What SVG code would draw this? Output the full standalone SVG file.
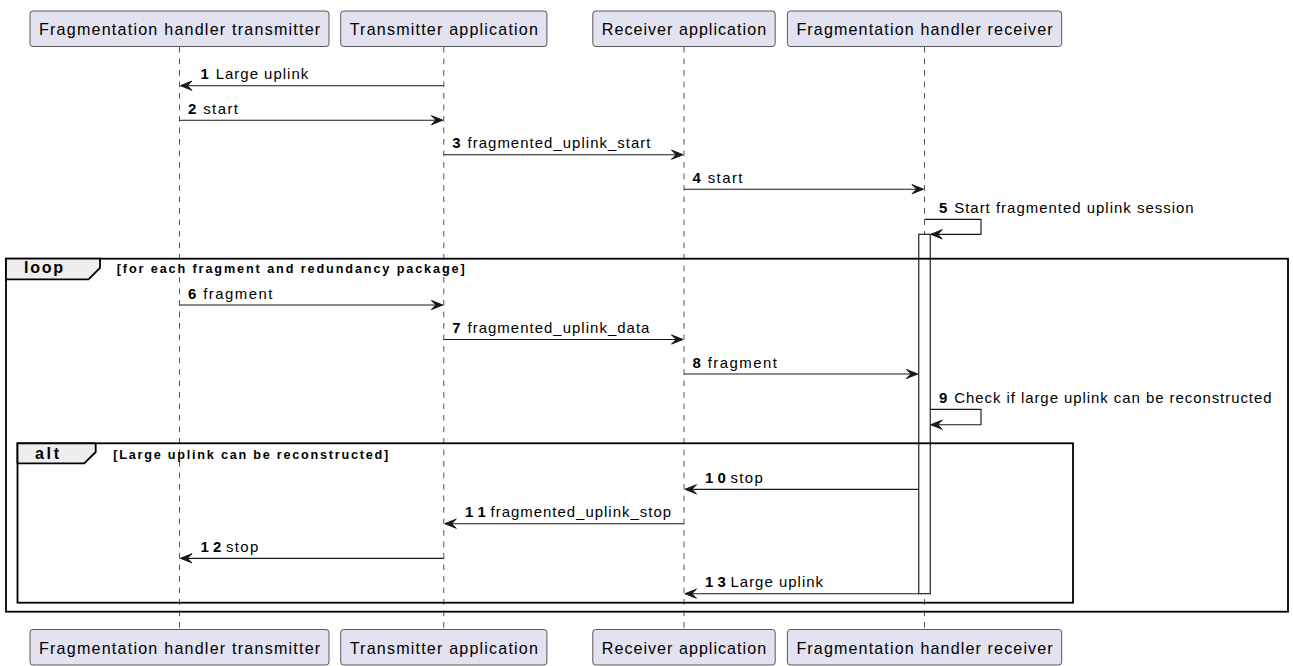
<svg xmlns="http://www.w3.org/2000/svg" width="1293" height="666" viewBox="0 0 1293 666">
  <defs>
    <style>
      .box { fill: #E2E2F0; stroke: #181818; stroke-width: 0.7; }
      .ptxt { font-family: "Liberation Sans", Arial, sans-serif; font-size: 16.1px; fill: #000; }
      .life { stroke: #555; stroke-width: 1; stroke-dasharray: 5.75 5.75; fill: none; }
      .msg { stroke: #181818; stroke-width: 1.15; fill: none; }
      .head { fill: #181818; stroke: #181818; stroke-width: 1; }
      .num { font-family: "Liberation Sans", Arial, sans-serif; font-size: 14.95px; font-weight: bold; fill: #000; }
      .lbl { font-family: "Liberation Sans", Arial, sans-serif; font-size: 14.95px; fill: #000; }
      .act { fill: #FFFFFF; stroke: #181818; stroke-width: 1.15; }
      .frame { fill: none; stroke: #000; stroke-width: 1.8; }
      .tab { fill: #EEEEEE; stroke: #000; stroke-width: 1.8; }
      .ftitle { font-family: "Liberation Sans", Arial, sans-serif; font-size: 16.1px; font-weight: bold; fill: #000; }
      .guard { font-family: "Liberation Sans", Arial, sans-serif; font-size: 12.65px; font-weight: bold; fill: #000; }
    </style>
  </defs>
  <rect x="0" y="0" width="1293" height="666" fill="#FFFFFF"/>

  <!-- lifelines -->
  <g id="lifelines">
    <line class="life" x1="179.5" y1="47" x2="179.5" y2="629.5"/>
    <line class="life" x1="443.8" y1="47" x2="443.8" y2="629.5"/>
    <line class="life" x1="684" y1="47" x2="684" y2="629.5"/>
    <line class="life" x1="924.5" y1="47" x2="924.5" y2="629.5"/>
  </g>

  <!-- participants, top and bottom -->
  <g id="fh-transmitter">
    <rect class="box" x="30" y="11" width="299" height="35.5" rx="3"/>
    <text class="ptxt" x="39" y="35" textLength="281.2" lengthAdjust="spacing">Fragmentation handler transmitter</text>
    <rect class="box" x="30" y="629.5" width="299" height="35.5" rx="3"/>
    <text class="ptxt" x="39" y="653.5" textLength="281.2" lengthAdjust="spacing">Fragmentation handler transmitter</text>
  </g>
  <g id="tx-app">
    <rect class="box" x="340.7" y="11" width="206.2" height="35.5" rx="3"/>
    <text class="ptxt" x="349.7" y="35" textLength="188.2" lengthAdjust="spacing">Transmitter application</text>
    <rect class="box" x="340.7" y="629.5" width="206.2" height="35.5" rx="3"/>
    <text class="ptxt" x="349.7" y="653.5" textLength="188.2" lengthAdjust="spacing">Transmitter application</text>
  </g>
  <g id="rx-app">
    <rect class="box" x="592.8" y="11" width="182.4" height="35.5" rx="3"/>
    <text class="ptxt" x="601.8" y="35" textLength="164.3" lengthAdjust="spacing">Receiver application</text>
    <rect class="box" x="592.8" y="629.5" width="182.4" height="35.5" rx="3"/>
    <text class="ptxt" x="601.8" y="653.5" textLength="164.3" lengthAdjust="spacing">Receiver application</text>
  </g>
  <g id="fh-receiver">
    <rect class="box" x="787.4" y="11" width="274.3" height="35.5" rx="3"/>
    <text class="ptxt" x="796.4" y="35" textLength="256.3" lengthAdjust="spacing">Fragmentation handler receiver</text>
    <rect class="box" x="787.4" y="629.5" width="274.3" height="35.5" rx="3"/>
    <text class="ptxt" x="796.4" y="653.5" textLength="256.3" lengthAdjust="spacing">Fragmentation handler receiver</text>
    <!-- activation bar -->
    <rect class="act" x="918.75" y="234.3" width="11.5" height="359.4"/>
  </g>

  <!-- combined fragments -->
  <g id="loop-frame">
    <rect class="frame" x="6" y="258.7" width="1282" height="353"/>
    <path class="tab" d="M6,258.7 L100,258.7 L100,267.8 L88.5,279.3 L6,279.3 Z"/>
    <text class="ftitle" x="24" y="273.3" textLength="39.2" lengthAdjust="spacing">loop</text>
    <text class="guard" x="116.7" y="273" textLength="348" lengthAdjust="spacing">[for each fragment and redundancy package]</text>
  </g>
  <g id="alt-frame">
    <rect class="frame" x="17.5" y="443.3" width="1055.5" height="159.4"/>
    <path class="tab" d="M17.5,443.3 L95.7,443.3 L95.7,452 L84.2,463.3 L17.5,463.3 Z"/>
    <text class="ftitle" x="35" y="459.3" textLength="24.1" lengthAdjust="spacing">alt</text>
    <text class="guard" x="113.3" y="459" textLength="275" lengthAdjust="spacing">[Large uplink can be reconstructed]</text>
  </g>

  <!-- messages -->
  <g id="connectors">
    <!-- 1 -->
    <line class="msg" x1="443.8" y1="85.7" x2="181" y2="85.7"/>
    <polygon class="head" points="180.5,85.7 192,81.1 187.4,85.7 192,90.3"/>
    <text class="num" x="200.5" y="79.3" textLength="10.4" lengthAdjust="spacing">1</text>
    <text class="lbl" x="215.7" y="79.3" textLength="92.5" lengthAdjust="spacing">Large uplink</text>
    <!-- 2 -->
    <line class="msg" x1="179.5" y1="120.2" x2="442" y2="120.2"/>
    <polygon class="head" points="442.8,120.2 431.3,115.6 435.9,120.2 431.3,124.8"/>
    <text class="num" x="188" y="113.8" textLength="10.4" lengthAdjust="spacing">2</text>
    <text class="lbl" x="203.2" y="113.8" textLength="34.8" lengthAdjust="spacing">start</text>
    <!-- 3 -->
    <line class="msg" x1="443.8" y1="154.7" x2="682.5" y2="154.7"/>
    <polygon class="head" points="683,154.7 671.5,150.1 676.1,154.7 671.5,159.3"/>
    <text class="num" x="452.3" y="148.3" textLength="10.4" lengthAdjust="spacing">3</text>
    <text class="lbl" x="467.5" y="148.3" textLength="183" lengthAdjust="spacing">fragmented_uplink_start</text>
    <!-- 4 -->
    <line class="msg" x1="684" y1="189.2" x2="923" y2="189.2"/>
    <polygon class="head" points="923.5,189.2 912,184.6 916.6,189.2 912,193.8"/>
    <text class="num" x="692.5" y="182.8" textLength="10.4" lengthAdjust="spacing">4</text>
    <text class="lbl" x="707.7" y="182.8" textLength="34.8" lengthAdjust="spacing">start</text>
    <!-- 5 (self) -->
    <polyline class="msg" points="924.5,219.3 981,219.3 981,234.3 931,234.3"/>
    <polygon class="head" points="930.8,234.3 942.3,229.7 937.7,234.3 942.3,238.9"/>
    <text class="num" x="939" y="212.8" textLength="10.4" lengthAdjust="spacing">5</text>
    <text class="lbl" x="954.2" y="212.8" textLength="239.4" lengthAdjust="spacing">Start fragmented uplink session</text>
    <!-- 6 -->
    <line class="msg" x1="179.5" y1="305" x2="442" y2="305"/>
    <polygon class="head" points="442.8,305 431.3,300.4 435.9,305 431.3,309.6"/>
    <text class="num" x="188" y="298.6" textLength="10.4" lengthAdjust="spacing">6</text>
    <text class="lbl" x="203.2" y="298.6" textLength="69.2" lengthAdjust="spacing">fragment</text>
    <!-- 7 -->
    <line class="msg" x1="443.8" y1="339.5" x2="682.5" y2="339.5"/>
    <polygon class="head" points="683,339.5 671.5,334.9 676.1,339.5 671.5,344.1"/>
    <text class="num" x="452.3" y="333.1" textLength="10.4" lengthAdjust="spacing">7</text>
    <text class="lbl" x="467.5" y="333.1" textLength="181.9" lengthAdjust="spacing">fragmented_uplink_data</text>
    <!-- 8 -->
    <line class="msg" x1="684" y1="374" x2="917" y2="374"/>
    <polygon class="head" points="917.8,374 906.3,369.4 910.9,374 906.3,378.6"/>
    <text class="num" x="692.5" y="367.6" textLength="10.4" lengthAdjust="spacing">8</text>
    <text class="lbl" x="707.7" y="367.6" textLength="69.2" lengthAdjust="spacing">fragment</text>
    <!-- 9 (self) -->
    <polyline class="msg" points="930.25,409.3 981,409.3 981,424.7 931,424.7"/>
    <polygon class="head" points="930.8,424.7 942.3,420.1 937.7,424.7 942.3,429.3"/>
    <text class="num" x="939" y="402.8" textLength="10.4" lengthAdjust="spacing">9</text>
    <text class="lbl" x="954.2" y="402.8" textLength="317.3" lengthAdjust="spacing">Check if large uplink can be reconstructed</text>
    <!-- 10 -->
    <line class="msg" x1="918.75" y1="489.3" x2="685.5" y2="489.3"/>
    <polygon class="head" points="685,489.3 696.5,484.7 691.9,489.3 696.5,493.9"/>
    <text class="num" x="705" y="482.9" textLength="20.8" lengthAdjust="spacing">10</text>
    <text class="lbl" x="730.5" y="482.9" textLength="32.3" lengthAdjust="spacing">stop</text>
    <!-- 11 -->
    <line class="msg" x1="684" y1="523.7" x2="445.3" y2="523.7"/>
    <polygon class="head" points="444.8,523.7 456.3,519.1 451.7,523.7 456.3,528.3"/>
    <text class="num" x="465" y="517.3" textLength="20.8" lengthAdjust="spacing">11</text>
    <text class="lbl" x="490.5" y="517.3" textLength="180.5" lengthAdjust="spacing">fragmented_uplink_stop</text>
    <!-- 12 -->
    <line class="msg" x1="443.8" y1="558.3" x2="181" y2="558.3"/>
    <polygon class="head" points="180.5,558.3 192,553.7 187.4,558.3 192,562.9"/>
    <text class="num" x="200.5" y="551.9" textLength="20.8" lengthAdjust="spacing">12</text>
    <text class="lbl" x="226" y="551.9" textLength="32.3" lengthAdjust="spacing">stop</text>
    <!-- 13 -->
    <line class="msg" x1="918.75" y1="593.7" x2="685.5" y2="593.7"/>
    <polygon class="head" points="685,593.7 696.5,589.1 691.9,593.7 696.5,598.3"/>
    <text class="num" x="705" y="587.3" textLength="20.8" lengthAdjust="spacing">13</text>
    <text class="lbl" x="730.5" y="587.3" textLength="92.5" lengthAdjust="spacing">Large uplink</text>
  </g>
</svg>
